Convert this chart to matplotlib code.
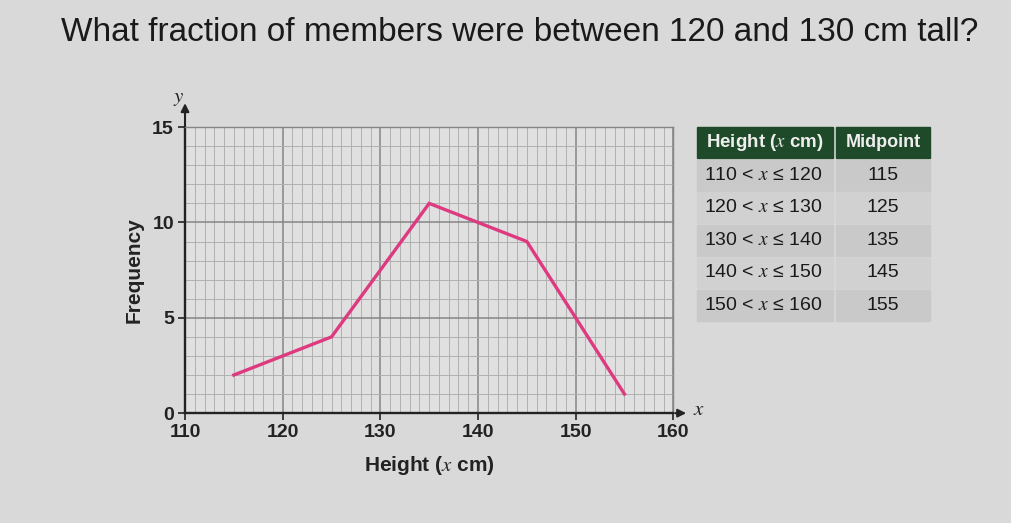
import matplotlib.pyplot as plt
from matplotlib.patches import Rectangle
import numpy as np

# frequency polygon data
midpoints = [115, 125, 135, 145, 155]
frequency = [2, 4, 11, 9, 1]
class_lo = [110, 120, 130, 140, 150]
class_hi = [120, 130, 140, 150, 160]

x_ticks = [110, 120, 130, 140, 150, 160]
y_ticks = [0, 5, 10, 15]

plt.rcParams['font.family'] = ['Liberation Sans', 'DejaVu Sans']
plt.rcParams['mathtext.fontset'] = 'stix'

fig = plt.figure(figsize=(10.11, 5.23), dpi=100, facecolor='#d9d9d9')
ax = fig.add_axes([0.183, 0.210, 0.483, 0.547])
ax.set_facecolor('#e0e0e0')

ax.set_xlim(110, 160)
ax.set_ylim(0, 15)

# graph paper, 1 unit squares
for xv in np.arange(110, 161, 1):
    major = xv % 10 == 0
    ax.axvline(xv, color='#858585' if major else '#b0b0b0', lw=1.1 if major else 0.7, zorder=1)
for yv in np.arange(0, 16, 1):
    major = yv % 5 == 0
    ax.axhline(yv, color='#858585' if major else '#b0b0b0', lw=1.1 if major else 0.7, zorder=1)

ax.plot(midpoints, frequency, color='#de3a80', lw=2.4, zorder=3, solid_joinstyle='miter')

for s in ['top', 'right']:
    ax.spines[s].set_color('#858585')
    ax.spines[s].set_linewidth(1.0)
for s in ['left', 'bottom']:
    ax.spines[s].set_color('#222222')
    ax.spines[s].set_linewidth(1.7)

# axis arrows
ax.annotate('', xy=(161.6, 0), xytext=(159.9, 0), xycoords='data',
            arrowprops=dict(arrowstyle='-|>', color='#222222', lw=1.5, mutation_scale=12),
            annotation_clip=False)
ax.annotate('', xy=(110, 16.4), xytext=(110, 14.9), xycoords='data',
            arrowprops=dict(arrowstyle='-|>', color='#222222', lw=1.5, mutation_scale=12),
            annotation_clip=False)
ax.text(162.0, 0.2, '$x$', fontsize=15, ha='left', va='center', color='#222222')
ax.text(109.4, 16.5, '$y$', fontsize=15, ha='center', va='center', color='#222222')

ax.set_xticks(x_ticks)
ax.set_yticks(y_ticks)
ax.tick_params(axis='both', direction='out', length=5, width=1.2, color='#222222',
               labelsize=14, labelcolor='#222222', pad=3)
ax.set_xticklabels([str(v) for v in x_ticks], fontweight='bold')
ax.set_yticklabels([str(v) for v in y_ticks], fontweight='bold')
ax.set_xlabel('Height ($x$ cm)', fontsize=15, color='#222222', labelpad=9, fontweight='bold')
ax.set_ylabel('Frequency', fontsize=15, color='#222222', labelpad=6, fontweight='bold')

# question
fig.text(0.514, 0.938, 'What fraction of members were between 120 and 130 cm tall?',
         fontsize=24, ha='center', va='center', color='#1a1a1a')

# table on the right
W, H = 1011.0, 523.0
c1x, c1w = 697, 136
c2x, c2w = 836, 94
hy, hh = 127, 31
rh = 32.5

def fx(px):
    return px / W

def fy(py):
    return 1 - py / H

for cx, cw in [(c1x, c1w), (c2x, c2w)]:
    fig.patches.append(Rectangle((fx(cx), fy(hy + hh)), cw / W, hh / H,
                                 transform=fig.transFigure, color='#1f4a2a', zorder=1))
fig.text(fx(c1x + c1w / 2), fy(hy + hh / 2), 'Height ($x$ cm)', fontsize=13.5,
         ha='center', va='center', color='#eeeeee', fontweight='bold')
fig.text(fx(c2x + c2w / 2), fy(hy + hh / 2), 'Midpoint', fontsize=13,
         ha='center', va='center', color='#eeeeee', fontweight='bold')

for i, (lo, hi, mid) in enumerate(zip(class_lo, class_hi, midpoints)):
    top = hy + hh + 2 + i * rh
    shade = '#c9c9c9' if i % 2 == 0 else '#d1d1d1'
    for cx, cw in [(c1x, c1w), (c2x, c2w)]:
        fig.patches.append(Rectangle((fx(cx), fy(top + rh - 2)), cw / W, (rh - 2) / H,
                                     transform=fig.transFigure, color=shade, zorder=1))
    fig.text(fx(c1x + 7), fy(top + rh / 2 - 1), f'{lo} < $x$ ≤ {hi}', fontsize=14,
             ha='left', va='center', color='#1a1a1a')
    fig.text(fx(c2x + c2w / 2), fy(top + rh / 2 - 1), str(mid), fontsize=14,
             ha='center', va='center', color='#1a1a1a')

fig.savefig('out.png', dpi=100, facecolor=fig.get_facecolor())
